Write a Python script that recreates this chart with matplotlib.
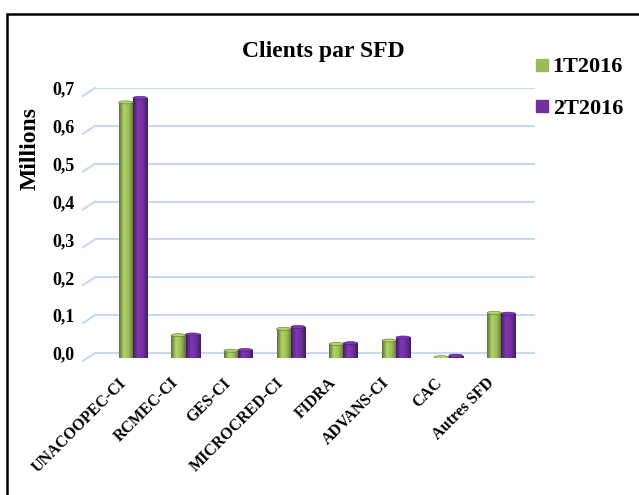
import numpy as np
import matplotlib
matplotlib.use("Agg")
import matplotlib.pyplot as plt
import matplotlib.transforms as mtransforms
from matplotlib.lines import Line2D
from matplotlib.patches import Rectangle, Ellipse
from matplotlib.colors import LinearSegmentedColormap

# data (millions of clients)
categories = ["UNACOOPEC-CI", "RCMEC-CI", "GES-CI", "MICROCRED-CI",
              "FIDRA", "ADVANS-CI", "CAC", "Autres SFD"]
t1_2016 = [0.676, 0.061, 0.020, 0.078, 0.038, 0.047, 0.003, 0.120]
t2_2016 = [0.688, 0.063, 0.022, 0.083, 0.040, 0.055, 0.007, 0.118]
series_names = ["1T2016", "2T2016"]
yticks = [0.0, 0.1, 0.2, 0.3, 0.4, 0.5, 0.6, 0.7]

green = "#9BBB59"
purple = "#7030A0"
grid_col = "#C6D9F0"
font = "Liberation Serif"

fig = plt.figure(figsize=(6.39, 4.95), dpi=100)
W, H = 639, 495
ax = fig.add_axes([95 / W, (H - 358.3) / H, 440 / W, 270.3 / H])

x = np.arange(len(categories))
bw = 0.27
floor = -0.014   # bars stand a little in front of the back wall


def cylinder(ax, xs, vals, color):
    """bars with a left-to-right shading, roughly like Excel's cylinders"""
    base = matplotlib.colors.to_rgb(color)
    dark = tuple(c * 0.6 for c in base)
    light = tuple(min(1, c * 1.15) for c in base)
    cmap = LinearSegmentedColormap.from_list("cyl", [dark, light, base, dark])
    grad = np.linspace(0, 1, 64).reshape(1, -1)
    bars = ax.bar(xs, vals, bw, bottom=floor, color=color, zorder=2)
    for b in bars:
        bx, by = b.get_x(), b.get_y()
        bwid, bh = b.get_width(), b.get_height()
        im = ax.imshow(grad, extent=[bx, bx + bwid, by, by + bh], cmap=cmap,
                       aspect="auto", zorder=3)
        im.set_clip_path(b)
        b.set_facecolor("none")
        ax.add_patch(Ellipse((bx + bwid / 2, by + bh), bwid, 0.008,
                             facecolor=light, edgecolor=dark, lw=0.4, zorder=4))
        ax.add_patch(Ellipse((bx + bwid / 2, by), bwid, 0.008,
                             facecolor=dark, edgecolor="none", zorder=1.9))
    return bars


cylinder(ax, x - bw / 2, t1_2016, green)
cylinder(ax, x + bw / 2, t2_2016, purple)

ax.set_xlim(-0.72, 7.64)
ax.set_ylim(floor, 0.7)

# back-wall grid with the small perspective stub on the left
for t in yticks:
    ax.axhline(t, color=grid_col, lw=1.5, zorder=0)
    ax.plot([-0.95, -0.72], [t - 0.021, t], color=grid_col, lw=1.5,
            clip_on=False, zorder=0)

for s in ax.spines.values():
    s.set_visible(False)

ax.set_yticks(yticks)
ax.set_yticklabels([f"{t:.1f}".replace(".", ",") for t in yticks],
                   fontfamily=font, fontweight="bold", fontsize=13)
ax.tick_params(axis="y", length=0, pad=15)
ax.set_xticks(x)
ax.set_xticklabels(categories, rotation=45, ha="right",
                   rotation_mode="anchor", fontfamily=font,
                   fontweight="bold", fontsize=11.5)
ax.tick_params(axis="x", length=0, pad=12)
shift = mtransforms.ScaledTranslation(-15 / 100, 0, fig.dpi_scale_trans)
for lab in ax.get_xticklabels():
    lab.set_transform(lab.get_transform() + shift)

fig.text(30 / W, (H - 149) / H, "Millions", rotation=90, ha="center",
         va="center", fontfamily=font, fontweight="bold", fontsize=17)
fig.text(323 / W, (H - 52) / H, "Clients par SFD", ha="center", va="center",
         fontfamily=font, fontweight="bold", fontsize=17)

handles = [Line2D([], [], marker="s", ls="", color=c, markersize=8)
           for c in (green, purple)]
fig.legend(handles, series_names, loc="upper left",
           bbox_to_anchor=(526 / W, (H - 48) / H), frameon=False,
           prop={"family": font, "weight": "bold", "size": 16},
           handlelength=0.6, handletextpad=0.2, labelspacing=0.95,
           borderaxespad=0)

# chart frame (right side is cut off in the reference)
fig.add_artist(Rectangle((7 / W, -0.05), 1.0, (H - 14) / H + 0.05,
                         transform=fig.transFigure, fill=False,
                         edgecolor="black", lw=1.8))

fig.savefig("out.png", dpi=100)
